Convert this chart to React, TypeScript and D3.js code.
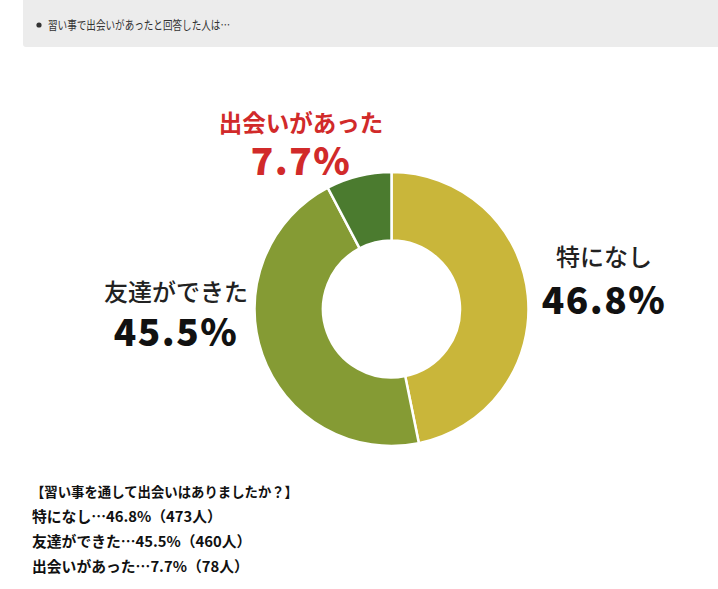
import React from "react";
import * as d3 from "d3";

const categories = ["特になし", "友達ができた", "出会いがあった"];
const percents = [46.8, 45.5, 7.7];
const counts = [473, 460, 78];
const colors = ["#c9b63a", "#859b34", "#4b7b2f"];
const headerText = "習い事で出会いがあったと回答した人は…";
const questionText = "【習い事を通して出会いはありましたか？】";

const W = 718;
const H = 589;
const cx = 391.5;
const cy = 309;
const outerR = 137;
const innerR = 68.5;

const FONT = "'Noto Sans CJK JP', 'Noto Sans', sans-serif";

export default function App() {
  const pie = d3.pie<number>().sort(null).value((d) => d)(percents);
  const arc = d3.arc<d3.PieArcDatum<number>>().innerRadius(innerR).outerRadius(outerR);

  const labelPos = [
    { x: 604, ty: 266, vy: 314, tc: "#222", tw: 500, vc: "#111" },
    { x: 176, ty: 301, vy: 346, tc: "#222", tw: 500, vc: "#111" },
    { x: 301, ty: 132, vy: 175, tc: "#d12a2a", tw: 700, vc: "#d12a2a" },
  ];

  return (
    <svg
      width={W}
      height={H}
      style={{ position: "absolute", left: 0, top: 0, background: "#fff" }}
      fontFamily={FONT}
    >
      <path d={`M23,0 H${W} V47 H26 Q23,47 23,44 Z`} fill="#ececec" />
      <circle cx={39} cy={25} r={2.6} fill="#333" />
      <text
        x={48}
        y={30}
        fontSize={12.5}
        fill="#333"
        textLength={182}
        lengthAdjust="spacingAndGlyphs"
      >
        {headerText}
      </text>

      <g transform={`translate(${cx},${cy})`}>
        {pie.map((d, i) => (
          <path key={i} d={arc(d) || ""} fill={colors[i]} stroke="#fff" strokeWidth={2.5} />
        ))}
      </g>

      {categories.map((c, i) => {
        const p = labelPos[i];
        return (
          <g key={c}>
            <text
              x={p.x}
              y={p.ty}
              textAnchor="middle"
              fontSize={i === 2 ? 23.5 : 24}
              fontWeight={p.tw}
              fill={p.tc}
            >
              {c}
            </text>
            <text
              x={p.x}
              y={p.vy}
              textAnchor="middle"
              fontSize={37}
              fontWeight={900}
              fill={p.vc}
              letterSpacing={1.5}
            >
              {`${percents[i]}%`}
            </text>
          </g>
        );
      })}

      <text x={31} y={497} fontSize={14} fontWeight={700} fill="#111" textLength={267} lengthAdjust="spacingAndGlyphs">
        {questionText}
      </text>
      {categories.map((c, i) => (
        <text key={"b" + c} x={32} y={522 + i * 25} fontSize={14.8} fontWeight={700} fill="#111">
          {`${c}…${percents[i]}%（${counts[i]}人）`}
        </text>
      ))}
    </svg>
  );
}
